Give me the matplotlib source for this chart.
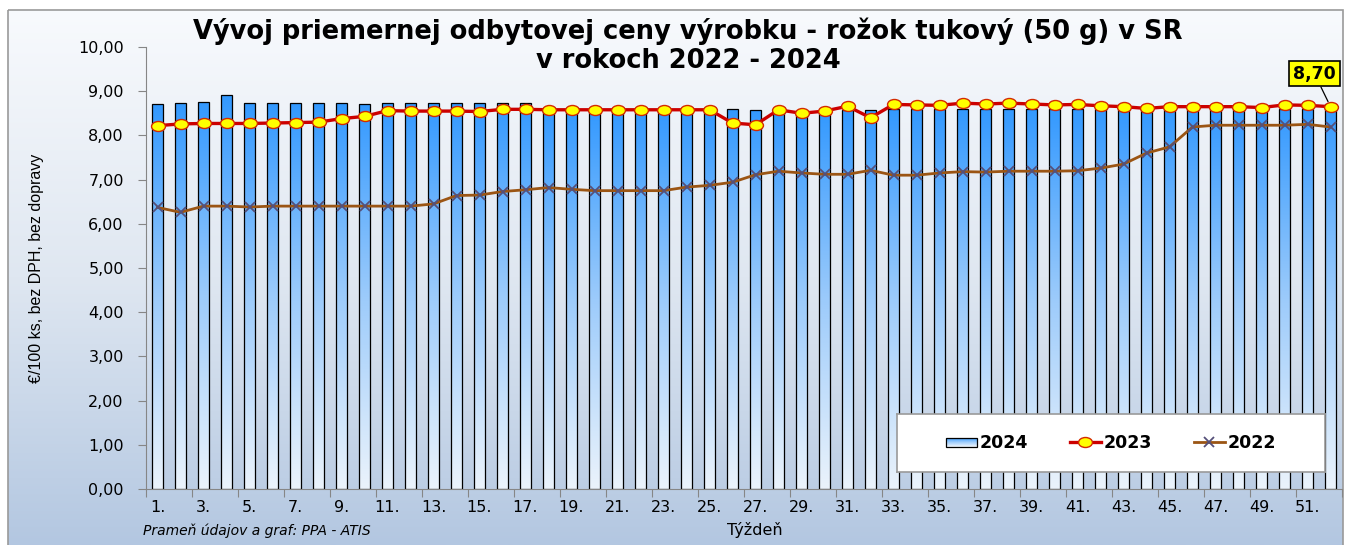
import matplotlib
matplotlib.use('Agg')
import matplotlib.pyplot as plt
import numpy as np
from matplotlib.path import Path
from matplotlib.patches import Rectangle
from matplotlib.colors import LinearSegmentedColormap
from matplotlib.legend_handler import HandlerBase
from matplotlib.lines import Line2D

# data (EUR / 100 ks)
weeks = np.arange(1, 53)
v2024 = [8.71, 8.73, 8.76, 8.91, 8.73, 8.73, 8.73, 8.73, 8.73, 8.71,
         8.73, 8.73, 8.73, 8.73, 8.73, 8.74, 8.74, 8.58, 8.58, 8.58,
         8.58, 8.58, 8.58, 8.58, 8.58, 8.59, 8.58, 8.58, 8.50, 8.55,
         8.58, 8.58, 8.59, 8.59, 8.59, 8.59, 8.60, 8.60, 8.60, 8.60,
         8.60, 8.60, 8.60, 8.60, 8.60, 8.60, 8.60, 8.60, 8.60, 8.60,
         8.60, 8.70]
v2023 = [8.22, 8.26, 8.27, 8.27, 8.27, 8.28, 8.29, 8.30, 8.38, 8.43,
         8.56, 8.55, 8.55, 8.55, 8.54, 8.59, 8.59, 8.58, 8.58, 8.58,
         8.58, 8.58, 8.58, 8.58, 8.58, 8.28, 8.24, 8.58, 8.50, 8.55,
         8.66, 8.40, 8.70, 8.69, 8.68, 8.73, 8.71, 8.73, 8.71, 8.69,
         8.70, 8.67, 8.65, 8.61, 8.65, 8.65, 8.65, 8.65, 8.63, 8.69,
         8.68, 8.65]
v2022 = [6.37, 6.26, 6.40, 6.40, 6.38, 6.40, 6.40, 6.40, 6.40, 6.40,
         6.40, 6.40, 6.45, 6.64, 6.65, 6.73, 6.77, 6.82, 6.78, 6.75,
         6.75, 6.75, 6.75, 6.83, 6.87, 6.94, 7.11, 7.19, 7.15, 7.12,
         7.12, 7.21, 7.10, 7.10, 7.15, 7.18, 7.17, 7.19, 7.19, 7.19,
         7.20, 7.26, 7.35, 7.60, 7.74, 8.19, 8.23, 8.23, 8.23, 8.23,
         8.25, 8.19]

W, H = 1346, 545
fig = plt.figure(figsize=(W / 100, H / 100), dpi=100)
fig.patch.set_facecolor('white')

# chart area background with vertical gradient
bg = fig.add_axes([0, 0, 1, 1], zorder=-5)
bg.set_xlim(0, W)
bg.set_ylim(H, 0)
bg.axis('off')
bg_cmap = LinearSegmentedColormap.from_list('bg', ['#f8fafd', '#dfe7f1', '#b3c7e1'])
grad = np.linspace(0, 1, 256).reshape(-1, 1)
bg.imshow(grad, cmap=bg_cmap, extent=(8, 1343, 545, 10), aspect='auto')
bg.add_patch(Rectangle((8, 10), 1335, 540, fill=False, edgecolor='#9a9a9a', lw=1.2))

ax = fig.add_axes([146 / W, 1 - 489 / H, (1342 - 146) / W, (489 - 47) / H], zorder=1)
ax.set_facecolor('none')

bar_cmap = LinearSegmentedColormap.from_list('bar', ['#ebf3fb', '#9ccbfb', '#3399ff'])
bars = ax.bar(weeks, v2024, width=0.45, facecolor='none', edgecolor='black', lw=0.9, zorder=2)
for b in bars:
    x0 = b.get_x()
    im = ax.imshow(grad, cmap=bar_cmap, origin='lower', aspect='auto',
                   extent=(x0, x0 + b.get_width(), 0, b.get_height()), zorder=1.5)
    im.set_clip_path(b)

ell = Path(Path.unit_circle().vertices * [1.0, 0.72], Path.unit_circle().codes)
ax.plot(weeks, v2022, color='#9b5514', lw=2, marker='x', ms=7, mec='#55507a', mew=1.3, zorder=3)
ax.plot(weeks, v2023, color='#cc0000', lw=2.4, marker=ell, ms=10, mfc='#ffff00', mec='#d42a00',
        mew=1, zorder=4)

ax.set_xlim(0.5, 52.5)
ax.set_ylim(0, 10)
ax.set_yticks(np.arange(0, 11, 1))
ax.set_yticklabels([f'{v:.2f}'.replace('.', ',') for v in range(11)], fontsize=11.5)
ax.set_xticks(np.arange(0.5, 53, 2))
ax.set_xticklabels([])
ax.set_xticks(weeks[::2], minor=True)
ax.set_xticklabels([f'{w}.' for w in weeks[::2]], minor=True, fontsize=11.5)
ax.tick_params(axis='x', which='minor', length=0, pad=8)
ax.tick_params(axis='x', which='major', length=6, color='#868686', direction='out')
ax.tick_params(axis='y', length=6, color='#868686', pad=10)
for s in ['top', 'right']:
    ax.spines[s].set_visible(False)
for s in ['left', 'bottom']:
    ax.spines[s].set_color('#868686')

ax.set_ylabel('€/100 ks, bez DPH, bez dopravy', fontsize=11.5,
              family=['Liberation Sans Narrow', 'Liberation Sans', 'DejaVu Sans'])
ax.yaxis.set_label_coords(-0.085, 0.5)
ax.set_xlabel('Týždeň', fontsize=11.5)
ax.xaxis.set_label_coords(0.509, -0.074)

fig.text(688 / W, 1 - 46 / H, 'Vývoj priemernej odbytovej ceny výrobku - rožok tukový (50 g) v SR\nv rokoch 2022 - 2024',
         ha='center', va='center', fontsize=18.5, fontweight='bold', linespacing=1.15)
fig.text(143 / W, 1 - 531 / H, 'Prameň údajov a graf: PPA - ATIS', fontsize=10, style='italic',
         ha='left', va='center')

# last value label
ax.annotate(f'{v2024[-1]:.2f}'.replace('.', ','), xy=(weeks[-1], v2023[-1]), xytext=(51.3, 9.4),
            ha='center', va='center', fontsize=12.5, fontweight='bold',
            bbox=dict(boxstyle='square,pad=0.22', fc='#ffff00', ec='black', lw=1.2),
            arrowprops=dict(arrowstyle='-', color='black', lw=0.9, shrinkA=0, shrinkB=4), zorder=6)


class GradHandler(HandlerBase):
    def create_artists(self, legend, orig, xd, yd, w, h, fs, trans):
        arts = []
        n = 10
        y0 = yd + h * 0.1
        hh = h * 0.75
        for i in range(n):
            arts.append(Rectangle((xd, y0 + hh * i / n), w, hh / n + 0.1, facecolor=bar_cmap(i / (n - 1)),
                                  edgecolor='none', transform=trans))
        arts.append(Rectangle((xd, y0), w, hh, fill=False, edgecolor='black', lw=0.9, transform=trans))
        return arts


# legend frame as its own small axes
frame_ax = fig.add_axes([897 / W, 1 - 472 / H, 428 / W, 58 / H], zorder=9)
frame_ax.set_facecolor('white')
for s in frame_ax.spines.values():
    s.set_color('#9a9a9a')
    s.set_linewidth(1.2)
frame_ax.set_xticks([])
frame_ax.set_yticks([])

h2024 = Rectangle((0, 0), 1, 1)
h2023 = Line2D([], [], color='#cc0000', lw=2.4, marker=ell, ms=10, mfc='#ffff00', mec='#d42a00')
h2022 = Line2D([], [], color='#9b5514', lw=2, marker='x', ms=7, mec='#55507a', mew=1.3)
leg = frame_ax.legend([h2024, h2023, h2022], ['2024', '2023', '2022'], handler_map={h2024: GradHandler()},
                      loc='center', bbox_to_anchor=(0.5, 0.5), ncol=3,
                      prop={'weight': 'bold', 'size': 12.5}, frameon=False,
                      handlelength=1.8, handletextpad=0.15, columnspacing=2.4, borderaxespad=0)

fig.savefig('out.png', dpi=100)
